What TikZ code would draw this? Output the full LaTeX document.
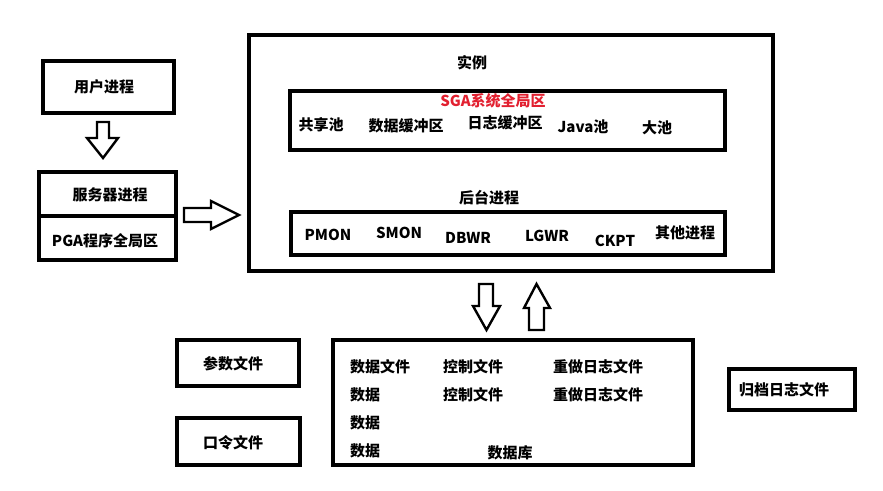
\documentclass[tikz,border=0pt]{standalone}
\usepackage{fontspec}
\setmainfont{Noto Sans CJK SC}
\definecolor{sgared}{RGB}{226,32,48}
\tikzset{
  box/.style={draw, line width=3.6pt, inner sep=0pt},
  lbl/.style={font=\fontsize{15}{18}\selectfont\bfseries, inner sep=0pt},
  barrow/.style={draw, line width=2.4pt, line join=miter, fill=white}
}
\begin{document}
\begin{tikzpicture}[x=1pt,y=-1pt]
\useasboundingbox (0,0) rectangle (883,490);
% boxes
\node[box, minimum width=131.4pt, minimum height=52.4pt] (user) at (108.5,87) {};
\node[box, minimum width=137.4pt, minimum height=88.4pt] (server) at (107.5,216) {};
\draw[line width=3.6pt] (server.west) -- (server.east);
\node[box, minimum width=524.4pt, minimum height=236.4pt] (inst) at (511,153) {};
\node[box, minimum width=435.4pt, minimum height=59.4pt] (sga) at (507.5,120.5) {};
\node[box, minimum width=434.4pt, minimum height=43.4pt] (bg) at (508,233.5) {};
\node[box, minimum width=122.4pt, minimum height=46.4pt] (param) at (238,363) {};
\node[box, minimum width=123.4pt, minimum height=47.4pt] (pwd) at (238.5,441.5) {};
\node[box, minimum width=360.4pt, minimum height=125.4pt] (db) at (513,402.5) {};
\node[box, minimum width=126.4pt, minimum height=41.4pt] (arch) at (792,389.5) {};
% block arrows
\draw[barrow] (97,122) -- (109,122) -- (109,138) -- (118,138) -- (103,158) -- (87,138) -- (97,138) -- cycle;
\draw[barrow] (184,208) -- (211,208) -- (211,201) -- (239,215) -- (211,229) -- (211,222) -- (184,222) -- cycle;
\draw[barrow] (479,284) -- (493,284) -- (493,306) -- (500,306) -- (486.5,330) -- (473,306) -- (479,306) -- cycle;
\draw[barrow] (529,330) -- (544,330) -- (544,308) -- (550,308) -- (536.5,284) -- (524,308) -- (529,308) -- cycle;
% labels
\node[lbl] (tuser) at (104,87) {用户进程};
\node[lbl] (tserver) at (110,195) {服务器进程};
\node[lbl] (tpga) at (105,241) {PGA程序全局区};
\node[lbl] (tinst) at (472,63) {实例};
\node[lbl, text=sgared] (tsga) at (493,101) {SGA系统全局区};
\node[lbl] (t1) at (321,125) {共享池};
\node[lbl] (t2) at (406,126) {数据缓冲区};
\node[lbl] (t3) at (505,123) {日志缓冲区};
\node[lbl] (t4) at (583,127) {Java池};
\node[lbl] (t5) at (657,128) {大池};
\node[lbl] (tbg) at (489,198) {后台进程};
\node[lbl] (p1) at (328,235) {PMON};
\node[lbl] (p2) at (399,233) {SMON};
\node[lbl] (p3) at (468,238) {DBWR};
\node[lbl] (p4) at (547,236) {LGWR};
\node[lbl] (p5) at (615,241) {CKPT};
\node[lbl] (p6) at (685,233) {其他进程};
\node[lbl] (tparam) at (233,364) {参数文件};
\node[lbl] (tpwd) at (233,443) {口令文件};
\node[lbl, anchor=west] (d1) at (350,367) {数据文件};
\node[lbl, anchor=west] (d2) at (350,395) {数据};
\node[lbl, anchor=west] (d3) at (350,423) {数据};
\node[lbl, anchor=west] (d4) at (350,451) {数据};
\node[lbl, anchor=west] (c1) at (443,367) {控制文件};
\node[lbl, anchor=west] (c2) at (443,395) {控制文件};
\node[lbl, anchor=west] (r1) at (553,367) {重做日志文件};
\node[lbl, anchor=west] (r2) at (553,395) {重做日志文件};
\node[lbl] (tdb) at (510,453) {数据库};
\node[lbl] (tarch) at (784,390) {归档日志文件};
\end{tikzpicture}
\end{document}
